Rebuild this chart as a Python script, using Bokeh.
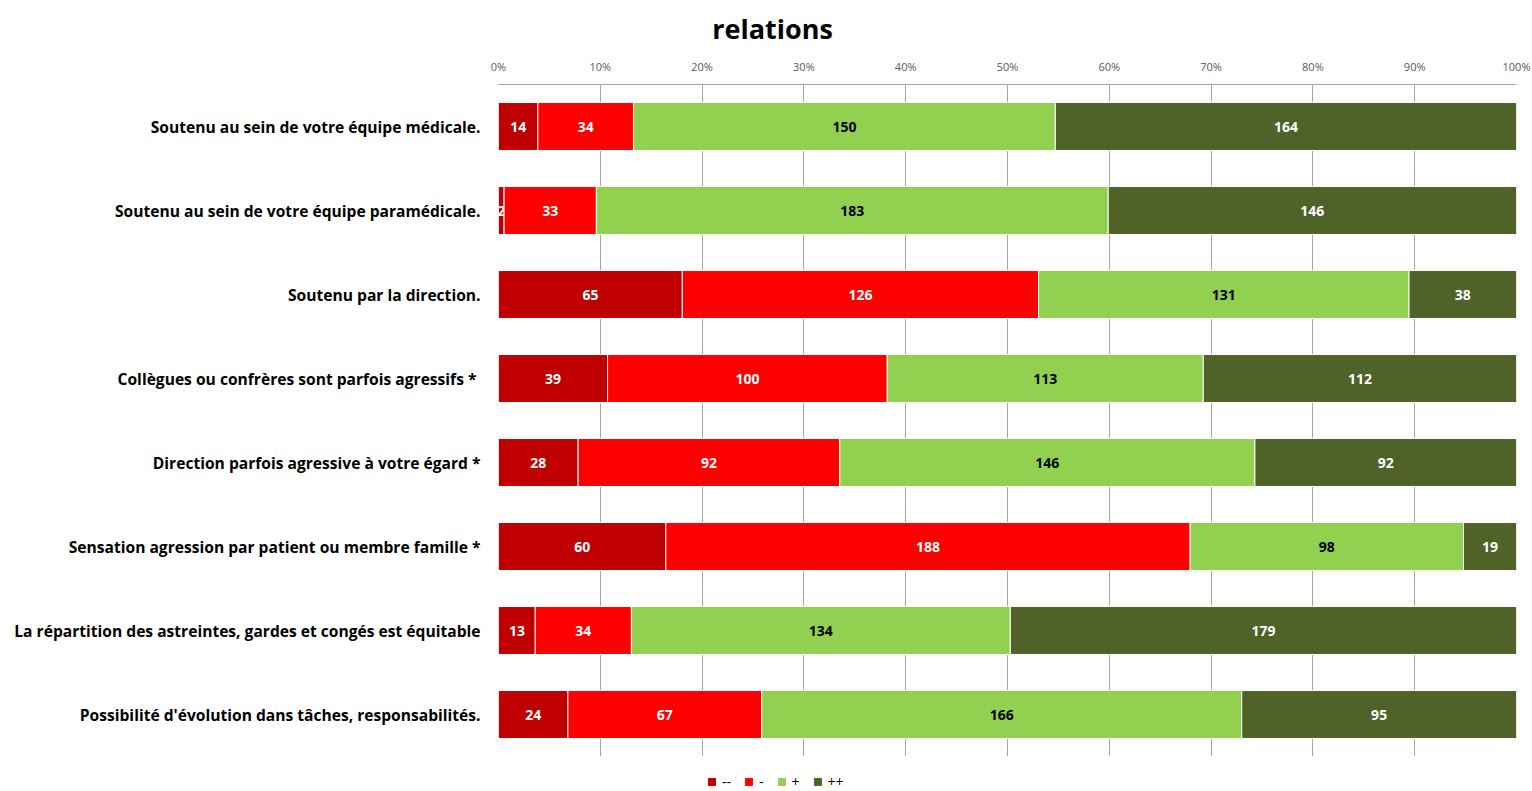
from bokeh.plotting import figure
from bokeh.models import (ColumnDataSource, Range1d, FactorRange, NumeralTickFormatter,
                          FixedTicker, Legend, LegendItem, Label)
from bokeh.layouts import column
from bokeh.embed import file_html
from bokeh.resources import INLINE
from bokeh.core.properties import value

title_text = "relations"
categories = [
    "Soutenu au sein de votre équipe médicale.",
    "Soutenu au sein de votre équipe paramédicale.",
    "Soutenu par la direction.",
    "Collègues ou confrères sont parfois agressifs  *",
    "Direction parfois agressive à votre égard *",
    "Sensation agression par patient ou membre famille *",
    "La répartition des astreintes, gardes et congés est équitable",
    "Possibilité d'évolution dans tâches, responsabilités.",
]
very_neg = [14, 2, 65, 39, 28, 60, 13, 24]
neg = [34, 33, 126, 100, 92, 188, 34, 67]
pos = [150, 183, 131, 113, 146, 98, 134, 166]
very_pos = [164, 146, 38, 112, 92, 19, 179, 95]
series_names = ["--", "-", "+", "++"]
colors = ["#C00000", "#FF0000", "#92D050", "#4F6228"]
text_colors = ["white", "white", "black", "white"]
tick_values = [0, 0.1, 0.2, 0.3, 0.4, 0.5, 0.6, 0.7, 0.8, 0.9, 1.0]

FONT = "Open Sans"
W = 1532
BL, BR = 498, 16
TITLE_H, MAIN_H, LEG_H = 48, 712, 31
series = [very_neg, neg, pos, very_pos]
totals = [sum(v) for v in zip(*series)]


def strip(height):
    f = figure(width=W, height=height, x_range=Range1d(BL, W - BR),
               y_range=Range1d(0, height), x_axis_type=None, y_axis_type=None,
               output_backend="svg", toolbar_location=None,
               min_border_left=BL, min_border_right=BR,
               min_border_top=0, min_border_bottom=0)
    f.outline_line_color = None
    f.xgrid.grid_line_color = None
    f.ygrid.grid_line_color = None
    return f


# title strip
tf = strip(TITLE_H)
tf.add_layout(Label(x=772, y=TITLE_H - 28, text=title_text, text_align="center",
                    text_baseline="middle", text_font=FONT, text_font_size="27px",
                    text_font_style="bold", text_color="black"))

# main chart
p = figure(width=W, height=MAIN_H,
           y_range=FactorRange(factors=list(reversed(categories))),
           x_range=Range1d(0, 1),
           x_axis_location="above",
           output_backend="svg", toolbar_location=None,
           min_border_left=BL, min_border_right=BR,
           min_border_top=84 - TITLE_H, min_border_bottom=4)
p.outline_line_color = None
p.ygrid.grid_line_color = None
p.xgrid.grid_line_color = "#A6A6A6"
p.xgrid.ticker = FixedTicker(ticks=tick_values)

xa = p.xaxis[0]
xa.ticker = FixedTicker(ticks=tick_values)
xa.formatter = NumeralTickFormatter(format="0%")
xa.major_label_text_font = FONT
xa.major_label_text_font_size = "11px"
xa.major_label_text_color = "#595959"
xa.axis_line_color = "#A6A6A6"
xa.major_tick_line_color = None
xa.minor_tick_line_color = None
xa.major_label_standoff = 5

ya = p.yaxis[0]
ya.major_label_text_font = FONT
ya.major_label_text_font_size = "15.6px"
ya.major_label_text_font_style = "bold"
ya.major_label_text_color = "black"
ya.axis_line_color = None
ya.major_tick_line_color = None
ya.minor_tick_line_color = None
ya.major_label_standoff = 12

left = [0.0] * len(categories)
for name, vals, col, tcol in zip(series_names, series, colors, text_colors):
    fr = [v / t for v, t in zip(vals, totals)]
    right = [l + f for l, f in zip(left, fr)]
    mid = [(l + r) / 2 for l, r in zip(left, right)]
    src = ColumnDataSource(dict(y=categories, left=left, right=right, mid=mid,
                                lab=[str(v) for v in vals]))
    p.hbar(y="y", left="left", right="right", height=0.571, source=src,
           fill_color=col, line_color="white", line_width=1)
    p.text(x="mid", y="y", text="lab", source=src, text_align="center",
           text_baseline="middle", text_font=value(FONT), text_font_size="14px",
           text_font_style="bold", text_color=tcol)
    left = right

# legend strip
lf = strip(LEG_H)
items = []
for name, col in zip(series_names, colors):
    r = lf.rect(x=[float("nan")], y=[float("nan")], width=1, height=1,
                fill_color=col, line_color=col)
    items.append(LegendItem(label=name, renderers=[r]))
legend = Legend(items=items, orientation="horizontal", location=(707 - BL, 0),
                glyph_width=9, glyph_height=9, label_height=12, label_width=0,
                label_text_font=FONT, label_text_font_size="14px",
                label_text_line_height=0.85,
                label_text_color="black", border_line_color=None,
                background_fill_alpha=0, spacing=13, padding=0, margin=0,
                label_standoff=6)
lf.add_layout(legend)

layout = column(tf, p, lf, spacing=0)
open("out.html", "w").write(file_html(layout, INLINE))
